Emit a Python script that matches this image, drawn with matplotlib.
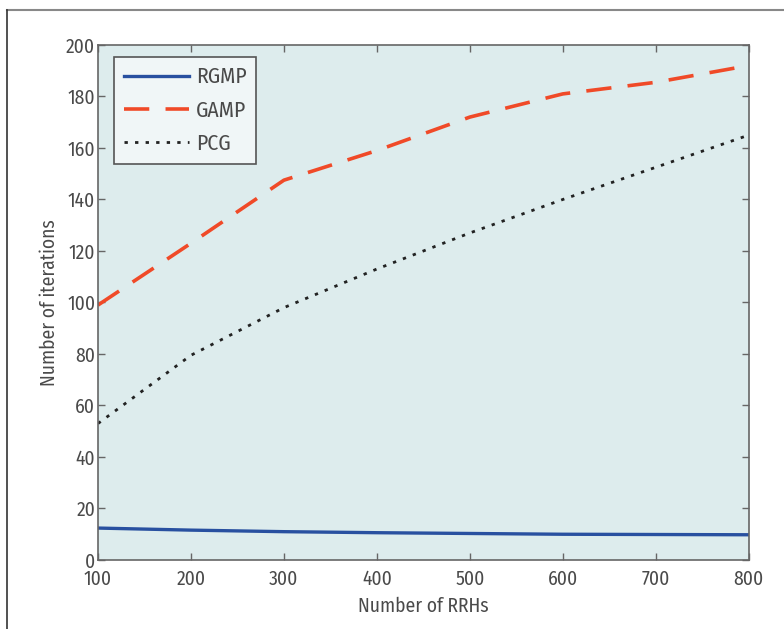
import matplotlib
matplotlib.use('Agg')
import matplotlib.pyplot as plt
from matplotlib.lines import Line2D

####################################################################################################

rrhs = [100, 200, 300, 400, 500, 600, 700, 800]
rgmp = [12.4, 11.6, 11.0, 10.6, 10.3, 10.0, 9.9, 9.8]
gamp = [99, 123, 147.5, 159, 172, 181, 185.5, 192]
pcg = [53, 79.5, 98, 113, 127, 140, 152.5, 165]

x_ticks = [100, 200, 300, 400, 500, 600, 700, 800]
y_ticks = [0, 20, 40, 60, 80, 100, 120, 140, 160, 180, 200]

####################################################################################################

plt.rcParams['font.family'] = ['Fira Sans Condensed', 'DejaVu Sans']
text_color = '#4a4a4a'
axis_color = '#666666'

fig = plt.figure(figsize=(7.84, 6.29), dpi=100)
ax = fig.add_axes([0.125, 0.1097, 0.83, 0.8188])
ax.set_facecolor('#ddeced')

ax.plot(rrhs, rgmp, color='#2850a0', lw=2.4, label='RGMP')
ax.plot(rrhs, gamp, color='#f04a28', lw=2.6, dashes=(7, 4.5), label='GAMP')
ax.plot(rrhs, pcg, color='#222222', lw=2.0, dashes=(1.2, 2.6), label='PCG')

ax.set_xlim(100, 800)
ax.set_ylim(0, 200)
ax.set_xticks(x_ticks)
ax.set_yticks(y_ticks)
ax.tick_params(direction='in', top=True, right=True, length=5, width=1,
               color=axis_color, labelsize=14, labelcolor=text_color, pad=2)
ax.tick_params(axis='x', pad=7)
for s in ax.spines.values():
    s.set_color(axis_color)
    s.set_linewidth(1.2)

ax.set_xlabel('Number of RRHs', fontsize=14, color=text_color, labelpad=5)
ax.set_ylabel('Number of iterations', fontsize=14, color=text_color, labelpad=5)

leg = ax.legend(loc='upper left', bbox_to_anchor=(0.025, 0.977), borderaxespad=0,
                fontsize=15.5, handlelength=3.0, handletextpad=0.35, borderpad=0.45,
                labelspacing=0.55, fancybox=False, framealpha=1)
leg.get_frame().set_facecolor('#f0f6f7')
leg.get_frame().set_edgecolor('#555555')
leg.get_frame().set_linewidth(1.2)
for t in leg.get_texts():
    t.set_color(text_color)

# outer frame
fig.add_artist(Line2D([7 / 784, 1], [1 - 10 / 629, 1 - 10 / 629], color='#888888', lw=1.5))
fig.add_artist(Line2D([7 / 784, 7 / 784], [0, 1 - 10 / 629], color='#333333', lw=1.2))

fig.savefig('out.png', dpi=100)
